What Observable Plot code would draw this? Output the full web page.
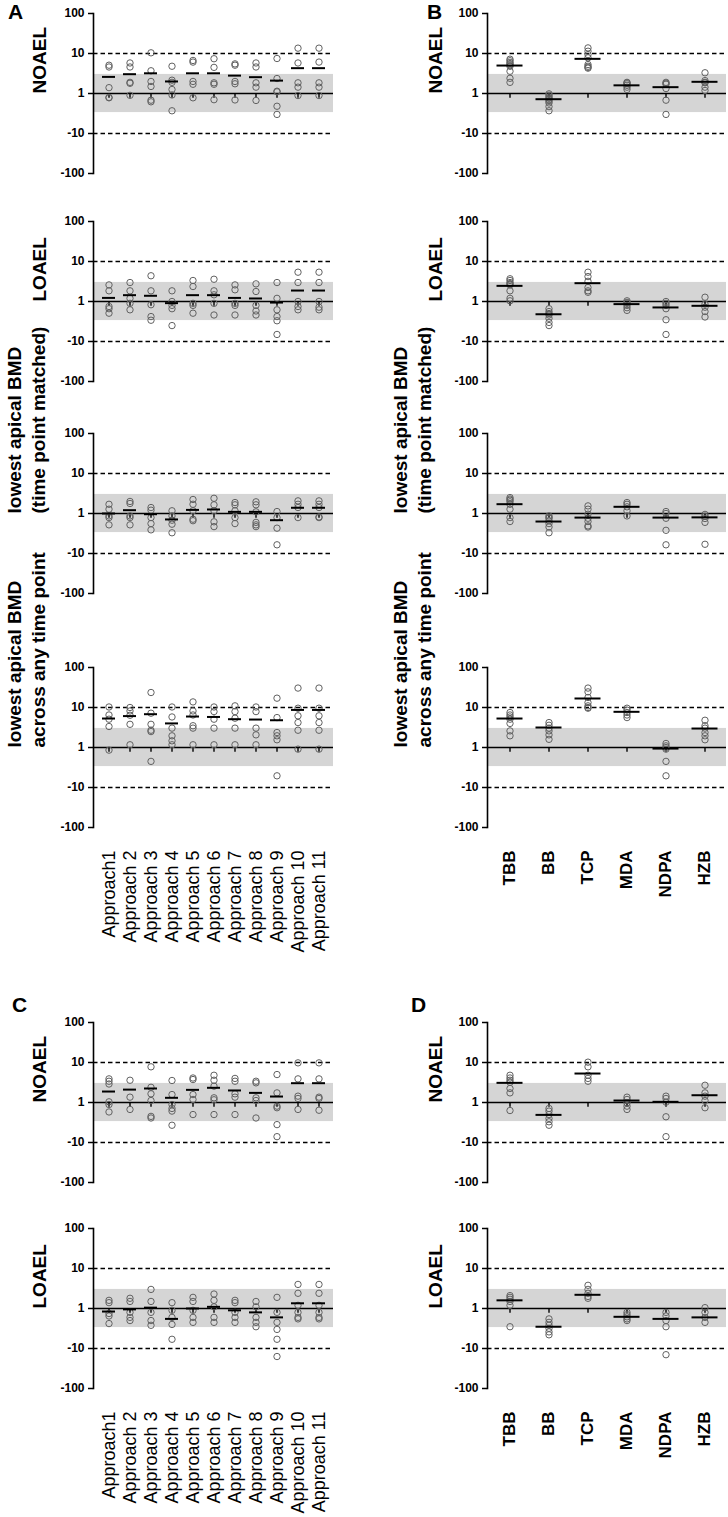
<!DOCTYPE html>
<html>
<head>
<meta charset="utf-8">
<script src="https://cdn.jsdelivr.net/npm/d3@7"></script>
<script src="https://cdn.jsdelivr.net/npm/@observablehq/plot@0.6"></script>
<style>
  body { margin: 0; background: #fff; }
  #fig { position: relative; width: 728px; height: 1517px; overflow: hidden;
         font-family: "Liberation Sans", Arial, sans-serif; }
  .letter { position: absolute; font-weight: bold; font-size: 21px; line-height: 24px; color: #000; }
</style>
</head>
<body>
<div id="fig"></div>
<script>
// ---------- categories & ticks ----------
const approaches = ["Approach1", "Approach 2", "Approach 3", "Approach 4", "Approach 5", "Approach 6",
                    "Approach 7", "Approach 8", "Approach 9", "Approach 10", "Approach 11"];
const chemicals = ["TBB", "BB", "TCP", "MDA", "NDPA", "HZB"];
const yTicks = [0.01, 0.1, 1, 10, 100];
const yTickLabels = ["-100", "-10", "1", "10", "100"];
const bandRange = [1 / 3, 3];
const foldLines = [10, 0.1];

// ---------- A: NOAEL (ratio values per approach) ----------
const aNoaelPoints = [
  [5.1, 4.6, 1.4, 0.78, 0.8],
  [5.8, 4.6, 1.9, 1.8, 0.9],
  [10.4, 3.7, 2.0, 1.5, 0.68, 0.62],
  [4.8, 2.15, 1.9, 1.26, 0.92, 0.37],
  [6.7, 6.1, 2.0, 1.7, 0.78],
  [7.4, 4.5, 1.85, 1.7, 0.7],
  [5.5, 5.1, 2.0, 1.75, 0.69],
  [5.8, 4.6, 1.85, 1.44, 0.67],
  [7.5, 2.37, 1.14, 1.1, 0.48, 0.3],
  [13.6, 5.8, 1.85, 1.44, 0.89],
  [13.6, 6.1, 1.85, 1.44, 0.89]
];
const aNoaelMeans = [2.6, 3.04, 3.2, 2.0, 3.2, 3.2, 2.8, 2.56, 2.1, 4.3, 4.3];

// ---------- B: NOAEL (per chemical) ----------
const bNoaelPoints = [
  [7.2, 6.6, 6.0, 5.6, 5.2, 4.8, 3.6, 2.4, 1.9],
  [0.98, 0.9, 0.82, 0.76, 0.7, 0.64, 0.58, 0.47, 0.37],
  [13.8, 11.4, 9.4, 7.8, 5.3, 4.8, 4.5, 4.3],
  [1.9, 1.85, 1.75, 1.6, 1.44, 1.26],
  [1.9, 1.8, 1.7, 1.33, 0.68, 0.3],
  [3.3, 2.1, 1.9, 1.85, 1.44, 1.19]
];
const bNoaelMeans = [5.0, 0.72, 7.35, 1.6, 1.44, 1.96];

// ---------- A: LOAEL ----------
const aLoaelPoints = [
  [2.6, 1.85, 0.75, 0.66, 0.51],
  [2.98, 1.85, 1.2, 0.9, 0.62],
  [4.4, 1.85, 0.83, 0.42, 0.34],
  [1.85, 1.0, 0.8, 0.66, 0.25],
  [3.35, 2.37, 0.9, 0.8, 0.51],
  [3.6, 1.85, 1.47, 0.9, 0.46],
  [2.6, 1.96, 0.9, 0.8, 0.46],
  [2.76, 1.78, 0.8, 0.58, 0.46],
  [2.98, 1.2, 0.62, 0.42, 0.33, 0.15],
  [5.4, 2.98, 1.0, 0.75, 0.62],
  [5.4, 2.98, 1.0, 0.72, 0.62]
];
const aLoaelMeans = [1.23, 1.44, 1.39, 0.91, 1.44, 1.44, 1.23, 1.19, 0.94, 1.88, 1.88];

// ---------- B: LOAEL ----------
const bLoaelPoints = [
  [3.7, 3.35, 2.98, 2.8, 2.6, 1.85, 1.2, 1.04],
  [0.66, 0.56, 0.5, 0.46, 0.38, 0.3, 0.25],
  [5.4, 4.2, 3.2, 2.24, 1.85, 1.7],
  [1.04, 0.95, 0.9, 0.8, 0.7, 0.6],
  [1.0, 0.9, 0.8, 0.66, 0.35, 0.15],
  [1.28, 0.86, 0.72, 0.56, 0.41]
];
const bLoaelMeans = [2.46, 0.48, 2.87, 0.86, 0.71, 0.78];

// ---------- A: lowest apical BMD (time point matched) ----------
const aBmdMatchedPoints = [
  [1.7, 1.28, 0.87, 0.79, 0.52],
  [2.0, 1.78, 0.87, 0.79, 0.52],
  [1.41, 1.21, 0.79, 0.56, 0.39],
  [1.17, 0.87, 0.68, 0.54, 0.33],
  [2.24, 1.7, 1.17, 0.72, 0.66],
  [2.4, 1.65, 1.17, 0.62, 0.47],
  [1.88, 1.65, 1.17, 0.79, 0.56],
  [1.96, 1.65, 1.1, 0.6, 0.52, 0.47],
  [1.12, 0.79, 0.43, 0.165],
  [2.07, 1.7, 1.41, 0.79],
  [2.07, 1.7, 1.41, 0.82, 0.79]
];
const aBmdMatchedMeans = [1.0, 1.21, 0.96, 0.71, 1.23, 1.26, 1.1, 1.1, 0.68, 1.39, 1.39];

// ---------- B: lowest apical BMD (time point matched) ----------
const bBmdMatchedPoints = [
  [2.5, 2.3, 2.15, 1.96, 1.7, 1.28, 0.79, 0.63],
  [0.87, 0.8, 0.76, 0.66, 0.56, 0.46, 0.33],
  [1.55, 1.28, 0.96, 0.76, 0.63, 0.49, 0.46],
  [1.88, 1.7, 1.47, 1.17, 0.87],
  [1.12, 1.0, 0.76, 0.38, 0.165],
  [0.95, 0.85, 0.75, 0.6, 0.17]
];
const bBmdMatchedMeans = [1.71, 0.63, 0.79, 1.47, 0.79, 0.8];

// ---------- A: lowest apical BMD across any time point ----------
const aBmdAnyPoints = [
  [10.3, 6.5, 5.1, 3.35, 0.86],
  [10, 8.2, 6.4, 3.8, 1.17],
  [23.7, 7.2, 3.8, 2.7, 2.5, 0.45],
  [10.3, 5.8, 3.05, 1.96, 1.47, 1.17],
  [13.8, 8.2, 6.5, 3.5, 3.05, 1.17],
  [10.3, 7.9, 5.1, 3.05, 1.17],
  [11, 7.9, 5.4, 3.05, 1.17],
  [10.3, 7.9, 3.05, 2.07, 1.17],
  [17.1, 5.6, 2.37, 1.96, 1.56, 0.196],
  [30.6, 9.6, 6.2, 4.2, 2.7, 0.91],
  [30.6, 9.6, 6.2, 4.2, 2.7, 0.91]
];
const aBmdAnyMeans = [5.3, 6.1, 6.8, 4.0, 5.95, 5.8, 5.1, 5.0, 4.8, 8.7, 8.7];

// ---------- B: lowest apical BMD across any time point ----------
const bBmdAnyPoints = [
  [7.5, 6.5, 5.8, 5.1, 4.0, 2.6, 1.96],
  [4.2, 3.6, 3.05, 2.6, 2.07, 1.6],
  [30.6, 24.6, 17.8, 13.3, 11, 10, 9.6],
  [9.6, 8.6, 7.5, 6.5, 5.6],
  [1.26, 1.1, 1.0, 0.91, 0.45, 0.196],
  [4.8, 3.5, 3.05, 2.37, 1.96, 1.56]
];
const bBmdAnyMeans = [5.3, 3.16, 16.8, 7.8, 0.94, 2.98];

// ---------- C: NOAEL ----------
const cNoaelPoints = [
  [3.9, 3.4, 2.9, 1.04, 0.89, 0.58],
  [3.6, 1.36, 0.67],
  [7.8, 2.4, 1.65, 1.12, 0.45, 0.41],
  [3.55, 1.58, 0.89, 0.71, 0.61, 0.27],
  [4.1, 3.75, 1.58, 1.19, 0.5],
  [4.8, 3.6, 2.56, 1.31, 1.17, 0.5],
  [4.0, 3.4, 1.65, 1.36, 0.5],
  [3.4, 3.1, 1.31, 1.12, 0.41],
  [5.0, 1.74, 0.81, 0.74, 0.28, 0.14],
  [9.8, 3.9, 1.44, 1.26, 0.67],
  [9.8, 3.9, 1.36, 1.26, 0.64]
];
const cNoaelMeans = [1.88, 2.1, 2.24, 1.31, 2.07, 2.33, 2.0, 1.74, 1.41, 3.04, 3.04];

// ---------- D: NOAEL ----------
const dNoaelPoints = [
  [4.8, 4.1, 3.6, 3.2, 2.24, 1.74, 0.63],
  [0.71, 0.61, 0.5, 0.4, 0.33, 0.27],
  [10.2, 7.8, 4.8, 4.0, 3.4],
  [1.36, 1.19, 0.98, 0.81, 0.67],
  [1.44, 1.26, 1.02, 0.44, 0.14],
  [2.7, 1.74, 1.44, 1.12, 0.74]
];
const dNoaelMeans = [3.1, 0.49, 5.3, 1.12, 1.04, 1.52];

// ---------- C: LOAEL ----------
const cLoaelPoints = [
  [1.6, 1.4, 0.75, 0.65, 0.42],
  [1.8, 1.5, 0.8, 0.6, 0.5],
  [3.0, 1.5, 0.8, 0.5, 0.38],
  [1.4, 0.9, 0.6, 0.4, 0.17],
  [1.9, 1.5, 0.9, 0.6, 0.45],
  [2.3, 1.6, 1.1, 0.6, 0.45],
  [1.6, 1.4, 0.8, 0.6, 0.45],
  [1.5, 1.1, 0.6, 0.45, 0.35],
  [1.9, 0.8, 0.45, 0.3, 0.17, 0.063],
  [4.0, 2.4, 1.2, 0.8, 0.6, 0.55],
  [4.0, 2.4, 1.2, 0.8, 0.6, 0.55]
];
const cLoaelMeans = [0.84, 0.95, 1.05, 0.55, 1.0, 1.1, 0.9, 0.8, 0.6, 1.35, 1.35];

// ---------- D: LOAEL ----------
const dLoaelPoints = [
  [2.1, 1.9, 1.7, 1.5, 1.2, 0.35],
  [0.55, 0.45, 0.38, 0.32, 0.26, 0.22],
  [3.8, 3.0, 2.4, 2.0, 1.8],
  [0.8, 0.7, 0.62, 0.55, 0.5],
  [0.8, 0.65, 0.5, 0.35, 0.07],
  [1.05, 0.8, 0.6, 0.45]
];
const dLoaelMeans = [1.6, 0.35, 2.2, 0.62, 0.55, 0.6];

// ---------- drawing ----------
const fig = document.getElementById("fig");
const FONT = '"Liberation Sans", Arial, Helvetica, sans-serif';
const tickFormat = d => yTickLabels[yTicks.indexOf(d)];
const xTickDrop = 10 ** (-0.12); // short downward category ticks on the "1" baseline

function panel({cats, points, means, title, col, frameTop, labels, titleDx}) {
  const left = col === 0;
  const W = 364;
  const mL = left ? 93 : 123;
  const mR = left ? 31 : 2;
  const mT = 20;
  const mB = labels ? 140 : 20;
  const meanInset = left ? 4 : 6.5;
  const pts = cats.flatMap((c, i) => points[i].map(v => ({cat: c, v})));
  const mns = cats.map((c, i) => ({cat: c, v: means[i]}));
  const marks = [
    Plot.rect([{}], {y1: bandRange[0], y2: bandRange[1], fill: "#d5d5d5"}),
    Plot.ruleY(foldLines, {stroke: "#000", strokeWidth: 1.4, strokeDasharray: "4.5,3"}),
    Plot.ruleY([1], {stroke: "#000", strokeWidth: 1.6}),
    Plot.ruleX(cats, {x: d => d, y1: 1, y2: xTickDrop, stroke: "#000", strokeWidth: 1.4}),
    Plot.dot(pts, {x: "cat", y: "v", r: 3.2, stroke: "#626262", strokeWidth: 1, fill: "none"}),
    Plot.tickY(mns, {x: "cat", y: "v", stroke: "#000", strokeWidth: 2, insetLeft: meanInset, insetRight: meanInset}),
    Plot.axisY({ticks: yTicks, tickFormat, tickSize: 5, tickPadding: 4, fontSize: 12, fontWeight: "bold",
                label: null, stroke: "#000", strokeWidth: 1.5, fill: "#000"}),
    Plot.frame({anchor: "left", stroke: "#000", strokeWidth: 1.6}),
    Plot.text([title], {frameAnchor: "left", rotate: -90, dx: titleDx, fontSize: 19, fontWeight: "bold",
                        lineHeight: 1.26, fill: "#000", text: d => d})
  ];
  if (labels) {
    marks.push(Plot.axisX({anchor: "bottom", tickRotate: -90, tickSize: 0, tickPadding: 23,
      fontSize: left ? 18 : 17, fontWeight: left ? "normal" : "bold", label: null, fill: "#000"}));
  }
  const chart = Plot.plot({
    width: W, height: mT + 160 + mB,
    marginLeft: mL, marginRight: mR, marginTop: mT, marginBottom: mB,
    style: {fontFamily: FONT, color: "#000", background: "none", overflow: "visible"},
    x: {type: "band", domain: cats, padding: 0, axis: labels ? undefined : null},
    y: {type: "log", domain: [0.01, 100]},
    marks
  });
  chart.style.position = "absolute";
  chart.style.left = (left ? 0 : 364) + "px";
  chart.style.top = (frameTop - mT) + "px";
  fig.appendChild(chart);
}

const titleNOAEL = "NOAEL";
const titleLOAEL = "LOAEL";
const titleBmdMatched = "lowest apical BMD\n(time point matched)";
const titleBmdAny = "lowest apical BMD\nacross any time point";

// section A / B
panel({cats: approaches, points: aNoaelPoints, means: aNoaelMeans, title: titleNOAEL, col: 0, frameTop: 13, titleDx: -55});
panel({cats: chemicals, points: bNoaelPoints, means: bNoaelMeans, title: titleNOAEL, col: 1, frameTop: 13, titleDx: -53});
panel({cats: approaches, points: aLoaelPoints, means: aLoaelMeans, title: titleLOAEL, col: 0, frameTop: 221, titleDx: -55});
panel({cats: chemicals, points: bLoaelPoints, means: bLoaelMeans, title: titleLOAEL, col: 1, frameTop: 221, titleDx: -53});
panel({cats: approaches, points: aBmdMatchedPoints, means: aBmdMatchedMeans, title: titleBmdMatched, col: 0, frameTop: 433, titleDx: -68});
panel({cats: chemicals, points: bBmdMatchedPoints, means: bBmdMatchedMeans, title: titleBmdMatched, col: 1, frameTop: 433, titleDx: -76});
panel({cats: approaches, points: aBmdAnyPoints, means: aBmdAnyMeans, title: titleBmdAny, col: 0, frameTop: 667, titleDx: -68, labels: true});
panel({cats: chemicals, points: bBmdAnyPoints, means: bBmdAnyMeans, title: titleBmdAny, col: 1, frameTop: 667, titleDx: -76, labels: true});
// section C / D
panel({cats: approaches, points: cNoaelPoints, means: cNoaelMeans, title: titleNOAEL, col: 0, frameTop: 1022, titleDx: -55});
panel({cats: chemicals, points: dNoaelPoints, means: dNoaelMeans, title: titleNOAEL, col: 1, frameTop: 1022, titleDx: -53});
panel({cats: approaches, points: cLoaelPoints, means: cLoaelMeans, title: titleLOAEL, col: 0, frameTop: 1228, titleDx: -55, labels: true});
panel({cats: chemicals, points: dLoaelPoints, means: dLoaelMeans, title: titleLOAEL, col: 1, frameTop: 1228, titleDx: -53, labels: true});

// panel letters
const letters = [["A", 8, 0], ["B", 427, 0], ["C", 12, 993], ["D", 411, 993]];
for (const [t, x, y] of letters) {
  const d = document.createElement("div");
  d.className = "letter";
  d.textContent = t;
  d.style.left = x + "px";
  d.style.top = y + "px";
  fig.appendChild(d);
}
</script>
</body>
</html>
